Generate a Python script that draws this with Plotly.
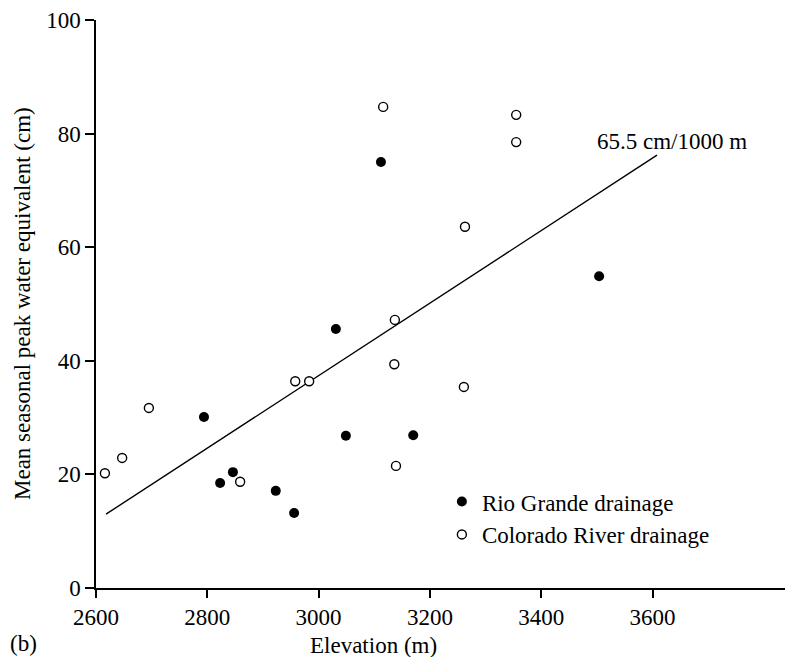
import plotly.graph_objects as go

# Data
rio_x = [3112, 2794, 2823, 2846, 2923, 2956, 3031, 3049, 3170, 3504]
rio_y = [75.0, 30.1, 18.5, 20.4, 17.1, 13.2, 45.6, 26.8, 26.9, 54.9]

col_x = [2616, 2647, 2695, 2859, 2958, 2983, 3137, 3136, 3139, 3261, 3263, 3355, 3355, 3116]
col_y = [20.2, 22.9, 31.7, 18.7, 36.4, 36.4, 47.2, 39.4, 21.5, 35.4, 63.6, 83.3, 78.5, 84.7]

fit_x = [2618, 3608]
fit_y = [13.0, 76.2]

x_ticks = [2600, 2800, 3000, 3200, 3400, 3600]
y_ticks = [0, 20, 40, 60, 80, 100]

FONT = "Liberation Serif, Times New Roman, serif"
FS = 23

fig = go.Figure()
fig.add_trace(go.Scatter(x=fit_x, y=fit_y, mode="lines",
                         line=dict(color="black", width=1.4), showlegend=False))
fig.add_trace(go.Scatter(x=rio_x, y=rio_y, mode="markers", name="Rio Grande drainage",
                         marker=dict(symbol="circle", size=10, color="black",
                                     line=dict(color="black", width=0))))
fig.add_trace(go.Scatter(x=col_x, y=col_y, mode="markers", name="Colorado River drainage",
                         marker=dict(symbol="circle", size=9, color="white",
                                     line=dict(color="black", width=1.4))))

fig.update_layout(
    width=785, height=657,
    margin=dict(l=96, r=0, t=20, b=69),
    paper_bgcolor="white", plot_bgcolor="white",
    font=dict(family=FONT, size=FS, color="black"),
    xaxis=dict(range=[2600, 3838], tickvals=x_ticks, showgrid=False, zeroline=False,
               showline=True, linecolor="black", linewidth=1.5,
               ticks="outside", ticklen=8, tickwidth=1.5, tickcolor="black",
               tickfont=dict(family=FONT, size=FS, color="black")),
    yaxis=dict(range=[0, 100], tickvals=y_ticks, showgrid=False, zeroline=False,
               showline=True, linecolor="black", linewidth=1.5,
               ticks="outside", ticklen=9, tickwidth=1.5, tickcolor="black",
               tickfont=dict(family=FONT, size=FS, color="black")),
    legend=dict(x=0.502, y=0.19, xanchor="left", yanchor="top",
                bgcolor="rgba(0,0,0,0)", font=dict(family=FONT, size=FS, color="black"),
                itemwidth=30, tracegroupgap=0),
    annotations=[
        dict(text="65.5 cm/1000 m", x=595, y=141, showarrow=False, font=dict(size=FS)),
        dict(text="Elevation (m)", x=373, y=645, showarrow=False, font=dict(size=FS)),
        dict(text="Mean seasonal peak water equivalent (cm)", x=22, y=304,
             textangle=-90, showarrow=False, font=dict(size=FS)),
        dict(text="(b)", x=23, y=643, showarrow=False, font=dict(size=FS)),
    ],
)

# convert pixel positions of annotations to paper coordinates
W_PLOT = 785 - 96
H_PLOT = 657 - 20 - 69
anns = list(fig.layout.annotations)
new = []
for i, a in enumerate(anns):
    px, py = a.x, a.y
    d = a.to_plotly_json()
    d["xref"] = "paper"; d["yref"] = "paper"
    d["x"] = (px - 96) / W_PLOT
    d["y"] = (588 - py) / H_PLOT
    d["xanchor"] = "left" if i == 0 else "center"
    d["yanchor"] = "middle"
    new.append(d)
fig.layout.annotations = new

fig.write_html("out.html")
